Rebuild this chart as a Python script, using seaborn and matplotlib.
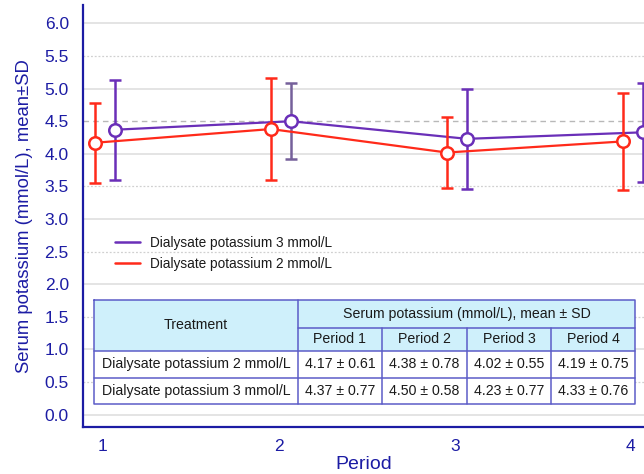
import matplotlib
matplotlib.use("Agg")
import matplotlib.pyplot as plt
from matplotlib.patches import Rectangle
from matplotlib.lines import Line2D
import seaborn as sns
import pandas as pd
import numpy as np

# ---- data ----
periods = [1, 2, 3, 4]
period_labels = ["Period 1", "Period 2", "Period 3", "Period 4"]
k2_mean = [4.17, 4.38, 4.02, 4.19]
k2_sd = [0.61, 0.78, 0.55, 0.75]
k3_mean = [4.37, 4.50, 4.23, 4.33]
k3_sd = [0.77, 0.58, 0.77, 0.76]
label_k2 = "Dialysate potassium 2 mmol/L"
label_k3 = "Dialysate potassium 3 mmol/L"
yticks = [0.0, 0.5, 1.0, 1.5, 2.0, 2.5, 3.0, 3.5, 4.0, 4.5, 5.0, 5.5, 6.0]

# ---- style ----
sns.set_theme(style="white")
plt.rcParams["font.family"] = ["Liberation Sans", "DejaVu Sans"]
AX_BLUE = "#1c1ca4"
PURPLE = "#6a2fb8"
RED = "#ff2a1a"
GREY_ERR = "#7a7a7a"
HEAD_FILL = "#cff0fb"
BORDER = "#5c5cc8"

fig = plt.figure(figsize=(6.44, 4.74), dpi=100)
ax = fig.add_axes([0.1284, 0.0998, 0.8716, 0.8897])

ax.set_xlim(0.885, 4.076)
ax.set_ylim(-0.187, 6.284)
ax.set_axisbelow(True)

# grid lines
for v in yticks:
    if abs(v - round(v)) < 1e-9:
        ax.axhline(v, color="#dcdcdc", lw=1.1, zorder=0.5)
    elif abs(v - 4.5) < 1e-9:
        ax.axhline(v, color="#b8b8b8", lw=1.0, ls=(0, (4, 3)), zorder=0.5)
    else:
        ax.axhline(v, color="#d0d0d0", lw=0.9, ls=(0, (1.5, 1.5)), zorder=0.5)

df = pd.DataFrame({
    "period": periods * 2,
    "mean": k3_mean + k2_mean,
    "sd": k3_sd + k2_sd,
    "group": [label_k3] * 4 + [label_k2] * 4,
})
offsets = {label_k3: 0.07, label_k2: -0.045}
colors = {label_k3: PURPLE, label_k2: RED}
df["x"] = df["period"] + df["group"].map(offsets)

for grp, z in [(label_k3, 3), (label_k2, 4)]:
    sub = df[df["group"] == grp]
    c = colors[grp]
    err_cols = [c] * len(sub)
    if grp == label_k3:
        err_cols[1] = GREY_ERR
    for (xi, yi, si, ec) in zip(sub["x"], sub["mean"], sub["sd"], err_cols):
        line_c = "#75609a" if ec == GREY_ERR else ec
        eb = ax.errorbar([xi], [yi], yerr=[si], fmt="none", ecolor=line_c, elinewidth=1.8,
                         capsize=4, capthick=1.8, zorder=z, clip_on=False)
        for cap in eb[1]:
            cap.set_color(ec)
    sns.lineplot(data=sub, x="x", y="mean", ax=ax, color=c, lw=1.6, marker="o",
                 markersize=9, markerfacecolor="white", markeredgecolor=c,
                 markeredgewidth=1.8, zorder=z + 0.5, legend=False, clip_on=False)

# spines & ticks
sns.despine(ax=ax)
for s in ["left", "bottom"]:
    ax.spines[s].set_color(AX_BLUE)
    ax.spines[s].set_linewidth(1.6)
ax.set_xticks(periods)
ax.set_xticklabels([str(p) for p in periods])
ax.set_yticks(yticks)
ax.set_yticklabels([f"{v:.1f}" for v in yticks])
ax.tick_params(axis="both", direction="out", length=4, width=1.6, color=AX_BLUE,
               labelcolor=AX_BLUE, labelsize=12.5)
ax.tick_params(axis="y", pad=6)
ax.tick_params(axis="x", pad=4.5)
ax.set_xlabel("Period", color=AX_BLUE, fontsize=14, labelpad=1.5)
ax.set_ylabel("Serum potassium (mmol/L), mean±SD", color=AX_BLUE, fontsize=13.3, labelpad=8)

# legend
handles = [Line2D([0], [0], color=PURPLE, lw=1.8), Line2D([0], [0], color=RED, lw=1.8)]
leg = ax.legend(handles, [label_k3, label_k2], loc="upper left",
                bbox_to_anchor=(0.0575, 0.453), frameon=False, fontsize=9.8,
                handlelength=1.85, handletextpad=0.75, labelspacing=0.55,
                borderpad=0, borderaxespad=0)
for t in leg.get_texts():
    t.set_color("#1a1a1a")

# table
def fx(px):
    return (px - 82.7) / 561.3

def fy(py):
    return (426.7 - py) / 421.7

cols = [94, 298, 382, 467, 551, 635]
rows = [300, 328, 351, 378, 404]
T = ax.transAxes
tkw = dict(transform=T, ha="center", va="center", fontsize=10.2, color="#1a1a1a", zorder=11)

# header fill
ax.add_patch(Rectangle((fx(cols[0]), fy(rows[2])), fx(cols[-1]) - fx(cols[0]),
                       fy(rows[0]) - fy(rows[2]), transform=T, facecolor=HEAD_FILL,
                       edgecolor="none", zorder=9))
ax.add_patch(Rectangle((fx(cols[0]), fy(rows[-1])), fx(cols[-1]) - fx(cols[0]),
                       fy(rows[2]) - fy(rows[-1]), transform=T, facecolor="white",
                       edgecolor="none", zorder=9))
lkw = dict(transform=T, color=BORDER, lw=1.1, zorder=10)
# outer border
ax.add_line(Line2D([fx(cols[0]), fx(cols[-1]), fx(cols[-1]), fx(cols[0]), fx(cols[0])],
                   [fy(rows[0]), fy(rows[0]), fy(rows[-1]), fy(rows[-1]), fy(rows[0])], **lkw))
# horizontal lines
ax.add_line(Line2D([fx(cols[1]), fx(cols[-1])], [fy(rows[1])] * 2, **lkw))
for r in rows[2:4]:
    ax.add_line(Line2D([fx(cols[0]), fx(cols[-1])], [fy(r)] * 2, **lkw))
# vertical lines
ax.add_line(Line2D([fx(cols[1])] * 2, [fy(rows[0]), fy(rows[-1])], **lkw))
for c in cols[2:5]:
    ax.add_line(Line2D([fx(c)] * 2, [fy(rows[1]), fy(rows[-1])], **lkw))

ax.text((fx(cols[0]) + fx(cols[1])) / 2, (fy(rows[0]) + fy(rows[2])) / 2, "Treatment", **tkw)
ax.text((fx(cols[1]) + fx(cols[-1])) / 2, (fy(rows[0]) + fy(rows[1])) / 2,
        "Serum potassium (mmol/L), mean ± SD", **tkw)
for i, pl in enumerate(period_labels):
    ax.text((fx(cols[i + 1]) + fx(cols[i + 2])) / 2, (fy(rows[1]) + fy(rows[2])) / 2, pl, **tkw)
for r, (lab, means, sds) in enumerate([(label_k2, k2_mean, k2_sd), (label_k3, k3_mean, k3_sd)]):
    yc = (fy(rows[2 + r]) + fy(rows[3 + r])) / 2
    ax.text((fx(cols[0]) + fx(cols[1])) / 2, yc, lab, **tkw)
    for i, (m, s) in enumerate(zip(means, sds)):
        ax.text((fx(cols[i + 1]) + fx(cols[i + 2])) / 2, yc, f"{m:.2f} ± {s:.2f}", **tkw)

fig.savefig("out.png", dpi=100, facecolor="white")
